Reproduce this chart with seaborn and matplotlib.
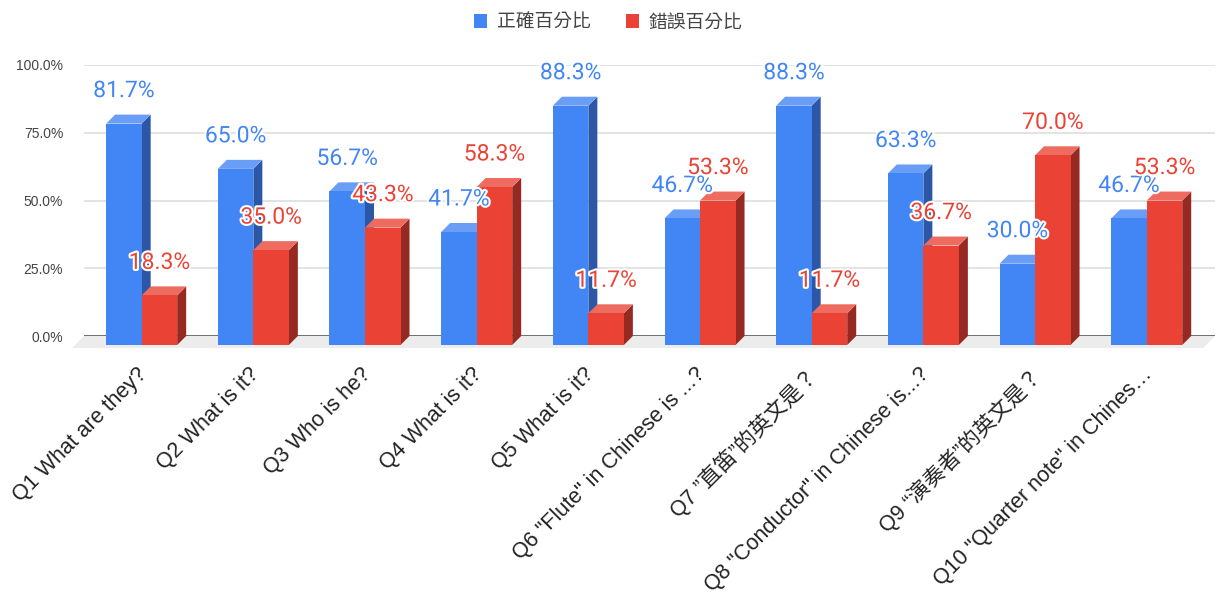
import matplotlib
matplotlib.use("Agg")
import matplotlib.pyplot as plt
import seaborn as sns
import pandas as pd
from matplotlib.patches import Polygon, Patch
from matplotlib.ticker import PercentFormatter, FixedLocator
from matplotlib.transforms import ScaledTranslation
import matplotlib.patheffects as pe

# ---------------- data ----------------
questions = [
    "Q1 What are they?",
    "Q2 What is it?",
    "Q3 Who is he?",
    "Q4 What is it?",
    "Q5 What is it?",
    'Q6 "Flute" in Chinese is ...?',
    "Q7 ”直笛”的英文是？",
    'Q8 "Conductor" in Chinese is...?',
    "Q9 “演奏者”的英文是？",
    'Q10 "Quarter note" in Chines…',
]
correct = [81.7, 65.0, 56.7, 41.7, 88.3, 46.7, 88.3, 63.3, 30.0, 46.7]
wrong = [18.3, 35.0, 43.3, 58.3, 11.7, 53.3, 11.7, 36.7, 70.0, 53.3]
series_names = ["正確百分比", "錯誤百分比"]
y_ticks = [0, 0.25, 0.5, 0.75, 1.0]

front_colors = ["#4285F4", "#EA4335"]
side_colors = ["#2C57A6", "#962A22"]
top_colors = ["#6A9EF6", "#EE6B60"]

df = pd.DataFrame({
    "question": questions * 2,
    "series": [series_names[0]] * len(questions) + [series_names[1]] * len(questions),
    "value": [v / 100 for v in correct + wrong],
})

sns.set_theme(style="white")
plt.rcParams["font.family"] = ["Liberation Sans", "Noto Sans CJK TC", "DejaVu Sans"]

W, H = 1219, 596
fig = plt.figure(figsize=(W / 100, H / 100), dpi=100)
ax = fig.add_axes([84 / W, 260 / H, 1131 / W, 271 / H])

sns.barplot(data=df, x="question", y="value", hue="series",
            order=questions, hue_order=series_names,
            palette=dict(zip(series_names, front_colors)),
            width=0.636, saturation=1, errorbar=None, legend=False, ax=ax)

xlim = (-0.597, 9.531)
ax.set_xlim(*xlim)
ax.set_ylim(0, 1)

# pixel -> data conversion for 3D depth
ax_w_px = fig.get_figwidth() * fig.dpi * ax.get_position().width
ax_h_px = fig.get_figheight() * fig.dpi * ax.get_position().height
pxx = ax_w_px / (xlim[1] - xlim[0])
pxy = ax_h_px / 1.0
depth = 9
ddx, ddy = depth / pxx, depth / pxy

bars = list(ax.patches)
for p in bars:
    x, w, h = p.get_x(), p.get_width(), p.get_height()
    cx = x + w / 2
    cat = int(round(cx))
    s = 0 if cx < cat else 1
    z = 3 + s
    side = Polygon([(x + w - ddx, -ddy), (x + w, 0), (x + w, h), (x + w - ddx, h - ddy)],
                   closed=True, facecolor=side_colors[s], edgecolor="none",
                   zorder=z, clip_on=False)
    top = Polygon([(x - ddx, h - ddy), (x + w - ddx, h - ddy), (x + w, h), (x, h)],
                  closed=True, facecolor=top_colors[s], edgecolor="none",
                  zorder=z, clip_on=False)
    ax.add_patch(side)
    ax.add_patch(top)
    p.set_x(x - ddx)
    p.set_y(-ddy)
    p.set_linewidth(0)
    p.set_zorder(z + 0.1)
    p.set_clip_on(False)
    ax.annotate(f"{h * 100:.1f}%", xy=(cx, h), xytext=(-depth, 24),
                textcoords="offset pixels", ha="center", va="center",
                fontsize=16.5, family="Roboto", color=front_colors[s],
                zorder=10, annotation_clip=False,
                path_effects=[pe.withStroke(linewidth=3, foreground="white")])

# floor
fdx, fdy = 12 / pxx, 12 / pxy
floor = Polygon([(xlim[0], 0), (xlim[1], 0), (xlim[1] - fdx, -fdy), (xlim[0] - fdx, -fdy)],
                closed=True, facecolor="#ececec", edgecolor="none", zorder=1, clip_on=False)
ax.add_patch(floor)
ax.axhline(0, color="#666666", lw=1.3, zorder=2)

# axes styling
for sp in ax.spines.values():
    sp.set_visible(False)
ax.set_axisbelow(True)
ax.grid(axis="y", color="#e0e0e0", lw=1.3)
ax.grid(axis="x", visible=False)
ax.yaxis.set_major_locator(FixedLocator(y_ticks))
ax.yaxis.set_major_formatter(PercentFormatter(xmax=1, decimals=1))
ax.tick_params(axis="y", length=0, pad=15, labelsize=10, labelcolor="#444444")
ax.set_xticks(range(len(questions)))
ax.set_xticklabels(questions, rotation=45, ha="right", va="top",
                   rotation_mode="anchor", fontsize=15.5, color="#222222")
ax.tick_params(axis="x", length=0, pad=18)
shift = ScaledTranslation(-14 / 100, -3 / 100, fig.dpi_scale_trans)
for lab in ax.get_xticklabels():
    lab.set_transform(lab.get_transform() + shift)
ax.set_xlabel("")
ax.set_ylabel("")

# legend
handles = [Patch(facecolor=c, edgecolor="none") for c in front_colors]
leg = fig.legend(handles, series_names, loc="center", bbox_to_anchor=(0.499, 1 - 22 / H),
                 ncol=2, frameon=False, handlelength=0.7, handleheight=0.7,
                 handletextpad=0.5, columnspacing=1.9,
                 prop={"family": ["Noto Sans CJK TC"], "size": 13.5})
for t in leg.get_texts():
    t.set_color("#444444")

fig.savefig("out.png", dpi=100)
